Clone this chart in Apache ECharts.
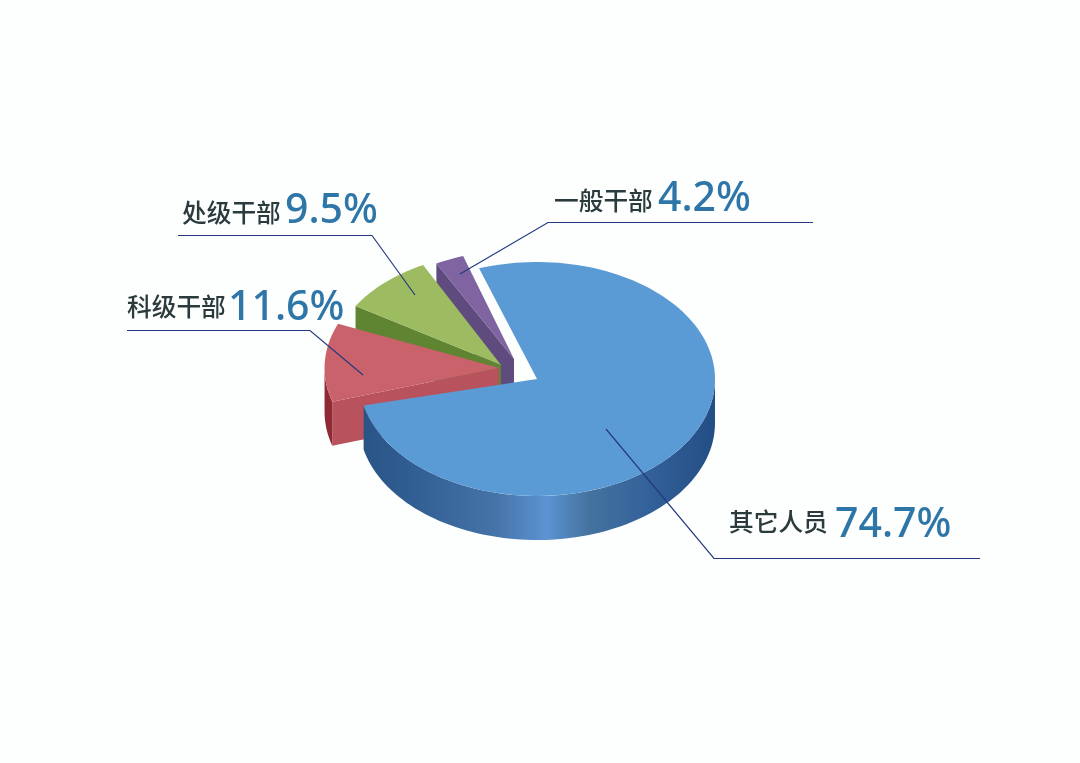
<!DOCTYPE html>
<html><head><meta charset="utf-8">
<style>html,body{margin:0;padding:0;background:#fdfefe}#c{width:1080px;height:763px}</style>
<script src="https://cdn.jsdelivr.net/npm/echarts@6/dist/echarts.min.js"></script>
</head><body><div id="c"></div>
<script>
const categories = ['其它人员', '科级干部', '处级干部', '一般干部'];
const shares = [74.7, 11.6, 9.5, 4.2];

// presentation only
const RX = 178, RY = 117, DEPTH = 44, START = -19;
const sliceLayout = [
  {cx:537, cy:379, r:1,    turnA:0,  turnB:7, top:'#5b9bd5', wall:null, outer:'blue'},
  {cx:499, cy:368, r:0.98, turnA:3,  turnB:1, top:'#c9626b', wall:'#b8525c', outer:'#8f2a35'},
  {cx:501, cy:365, r:0.96, turnA:10, turnB:7, top:'#9dbb61', wall:'#5f8432', outer:'#5f8432'},
  {cx:514, cy:359, r:0.925,turnA:6,  turnB:1, top:'#7f64a1', wall:'#5f4b7d', outer:'#5f4b7d'}
];
const labelLayout = [
  {nameX:729, nameY:522, pctX:835, pctY:525, line:[[606,429],[714,558.5],[980,558.5]]},
  {nameX:127, nameY:307, pctX:228, pctY:308, line:[[127,330.5],[310,330.5],[363,375]]},
  {nameX:182, nameY:213, pctX:285, pctY:211, line:[[178,235.5],[372,235.5],[415,295]]},
  {nameX:554, nameY:201, pctX:658, pctY:199, line:[[460,274],[548,222.5],[813,222.5]]}
];

const angles = (function(){
  let a = START; return shares.map(function(v){ const s = a; a += v/100*360; return [s, a]; });
})();
function pt(l, deg, dz){
  const r = deg*Math.PI/180;
  return [l.cx + l.r*RX*Math.sin(r), l.cy - l.r*RY*Math.cos(r) + (dz||0)];
}
function arc(l, a0, a1, dz){
  const out=[], n=Math.max(2,Math.ceil(Math.abs(a1-a0)/2));
  for(let i=0;i<=n;i++) out.push(pt(l,a0+(a1-a0)*i/n,dz));
  return out;
}
function renderItem(params){
  const i = params.dataIndex, l = sliceLayout[i];
  const a0 = angles[i][0]+l.turnA, a1 = angles[i][1]+l.turnB;
  const kids = [];
  const apex=[l.cx,l.cy];
  if(l.wall){
    const o=pt(l,a0), o2=pt(l,a0,DEPTH);
    kids.push({type:'polygon',shape:{points:[apex,o,o2,[l.cx,l.cy+DEPTH]]},style:{fill:l.wall}});
  }
  // outer wall: the part of the rim that faces the viewer (90..270 deg)
  const from=Math.max(a0,90), to=Math.min(a1,270);
  if(to>from){
    const pts=arc(l,from,to,0).concat(arc(l,to,from,DEPTH));
    const fill = l.outer==='blue' ? new echarts.graphic.LinearGradient(0,0,1,0,[
      {offset:0,color:'#2a5486'},{offset:0.12,color:'#2f5d92'},{offset:0.38,color:'#4674a8'},
      {offset:0.52,color:'#5a94d2'},{offset:0.64,color:'#44739f'},{offset:0.8,color:'#34629a'},{offset:1,color:'#234d85'}
    ]) : l.outer;
    kids.push({type:'polygon',shape:{points:pts},style:{fill:fill}});
  }
  kids.push({type:'polygon',shape:{points:[apex].concat(arc(l,a0,a1,0))},style:{fill:l.top}});
  return {type:'group',children:kids};
}
// draw back to front: small slices first, main slice last
const drawOrder = [3,2,1,0];
const texts=[];
categories.forEach(function(name,i){
  const t=labelLayout[i];
  texts.push({type:'polyline',z:50,shape:{points:t.line},style:{fill:null,stroke:'#24397f',lineWidth:1.2}});
  texts.push({type:'text',z:60,x:t.nameX,y:t.nameY,style:{text:name,font:'500 24.7px "Noto Sans CJK SC"',fill:'#2b3a3c',textVerticalAlign:'middle'}});
  texts.push({type:'text',z:60,x:t.pctX,y:t.pctY,style:{text:shares[i].toFixed(1)+'%',font:'500 41px "Noto Sans"',fill:'#2e75a8',textVerticalAlign:'middle'}});
});
const chart=echarts.init(document.getElementById('c'),null,{renderer:'canvas'});
chart.setOption({
  backgroundColor:'#fdfefe',
  animation:false,
  graphic:texts,
  series:[{
    type:'custom',coordinateSystem:'none',silent:true,
    data:drawOrder.map(function(i){return {name:categories[i],value:shares[i]};}),
    renderItem:function(p,api){ return renderItem({dataIndex:drawOrder[p.dataIndex]}); }
  }]
});
</script></body></html>
